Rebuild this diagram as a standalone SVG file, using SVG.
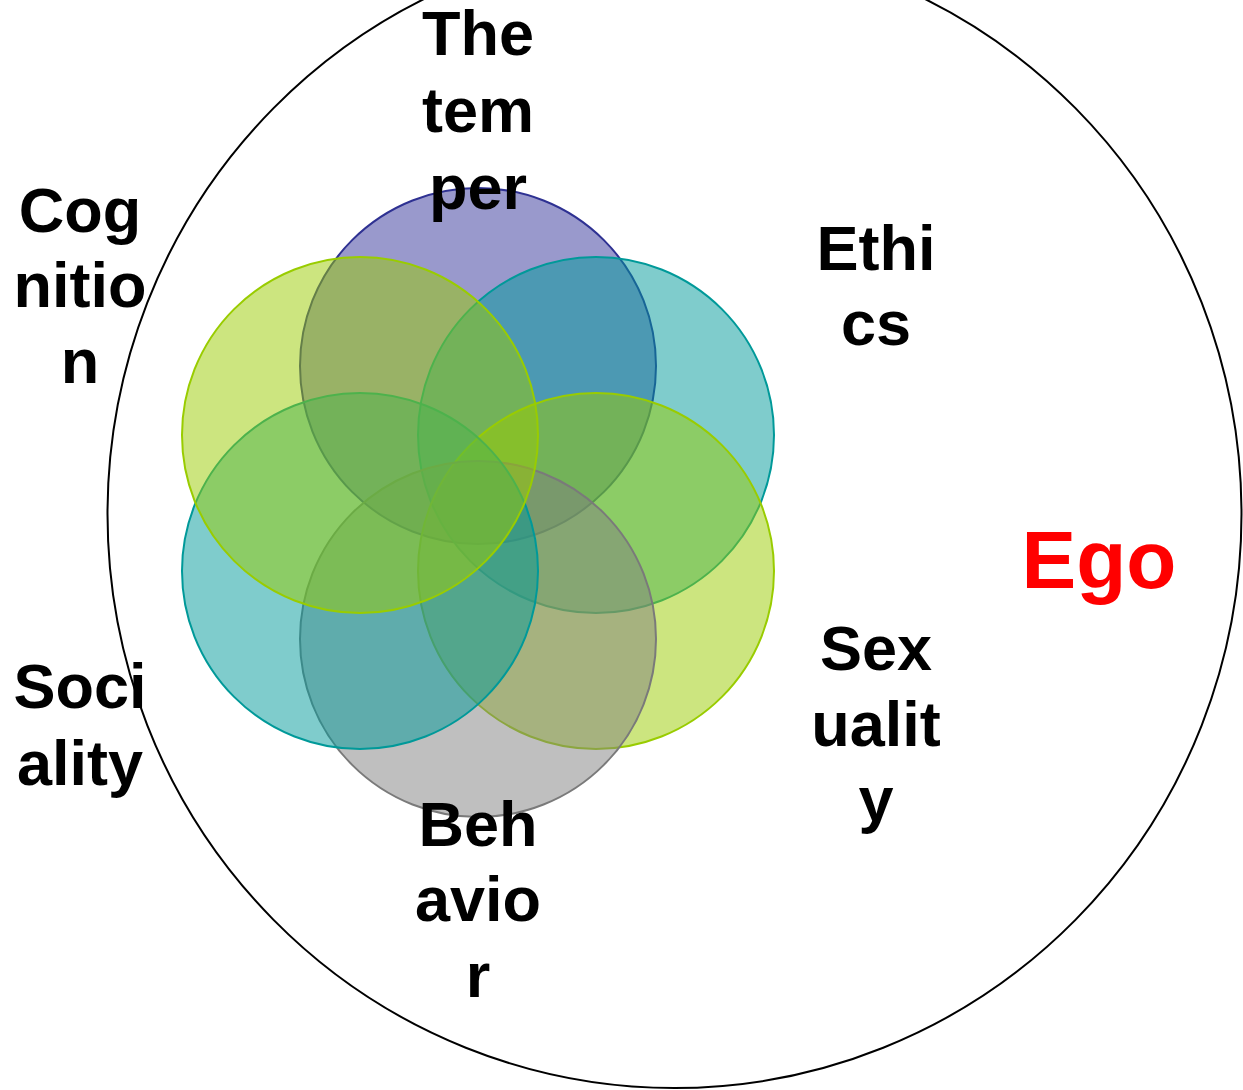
<svg xmlns="http://www.w3.org/2000/svg" width="1243" height="1090" viewBox="0 0 1243 1090">
  <style>
    .label { font-family: "Liberation Sans", Arial, sans-serif; font-weight: bold; font-size: 63px; fill: #000; text-anchor: middle; }
    .ego { font-family: "Liberation Sans", Arial, sans-serif; font-weight: bold; font-size: 82px; fill: #ff0000; text-anchor: middle; }
    .petal { fill-opacity: 0.5; stroke-width: 2; }
    .purple { fill: #333399; stroke: #2e3192; }
    .teal { fill: #009999; stroke: #009999; }
    .lime { fill: #99cc00; stroke: #99cc00; }
    .grey { fill: #808080; stroke: #7a7a7a; }
  </style>
  <rect width="1243" height="1090" fill="#ffffff"/>

  <!-- outer boundary -->
  <g id="ego-boundary">
    <ellipse cx="674.5" cy="514" rx="567" ry="574" fill="none" stroke="#000" stroke-width="2"/>
  </g>

  <!-- six overlapping circles, drawn clockwise from the top -->
  <g id="circle-temper"><circle class="petal purple" cx="478" cy="366" r="178"/></g>
  <g id="circle-ethics"><circle class="petal teal" cx="596" cy="435" r="178"/></g>
  <g id="circle-sexuality"><circle class="petal lime" cx="596" cy="571" r="178"/></g>
  <g id="circle-behavior"><circle class="petal grey" cx="478" cy="639" r="178"/></g>
  <g id="circle-sociality"><circle class="petal teal" cx="360" cy="571" r="178"/></g>
  <g id="circle-cognition"><circle class="petal lime" cx="360" cy="435" r="178"/></g>

  <g id="connectors"/>

  <!-- labels -->
  <g id="label-temper">
    <text class="label" x="478" y="55">The</text>
    <text class="label" x="478" y="132">tem</text>
    <text class="label" x="478" y="209">per</text>
  </g>
  <g id="label-cognition">
    <text class="label" x="80" y="232">Cog</text>
    <text class="label" x="80" y="307">nitio</text>
    <text class="label" x="80" y="383">n</text>
  </g>
  <g id="label-ethics">
    <text class="label" x="876" y="270">Ethi</text>
    <text class="label" x="876" y="345">cs</text>
  </g>
  <g id="label-sexuality">
    <text class="label" x="876" y="670">Sex</text>
    <text class="label" x="876" y="746">ualit</text>
    <text class="label" x="876" y="821">y</text>
  </g>
  <g id="label-sociality">
    <text class="label" x="80" y="708">Soci</text>
    <text class="label" x="80" y="785">ality</text>
  </g>
  <g id="label-behavior">
    <text class="label" x="478" y="846">Beh</text>
    <text class="label" x="478" y="921">avio</text>
    <text class="label" x="478" y="997">r</text>
  </g>
  <g id="label-ego">
    <text class="ego" x="1099" y="588">Ego</text>
  </g>
</svg>
